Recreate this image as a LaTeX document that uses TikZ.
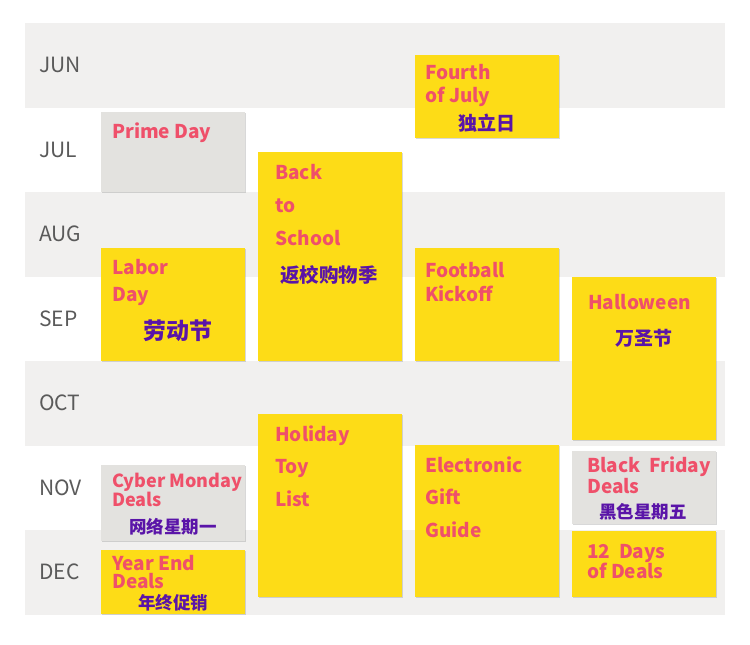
\documentclass[tikz,border=0pt]{standalone}
\usepackage{fontspec}
\setmainfont{Noto Sans CJK SC}
\usepackage{tikz}
\usetikzlibrary{shadows,positioning}
\definecolor{bandgray}{HTML}{F1F0EF}
\definecolor{cardgray}{HTML}{E3E2DF}
\definecolor{cardyellow}{HTML}{FDDC17}
\definecolor{titlepink}{HTML}{EF506A}
\definecolor{cnpurple}{HTML}{5A14A8}
\definecolor{monthgray}{HTML}{5A5A5A}

\begin{document}
\begin{tikzpicture}[x=1pt,y=-1pt,
	card/.style={anchor=north west,inner sep=0,outer sep=0,fill=cardyellow,
		drop shadow={shadow xshift=1.2pt,shadow yshift=-1.2pt,opacity=0.3}},
	graycard/.style={card,fill=cardgray},
	title/.style={anchor=base west,inner sep=0,align=left,text=titlepink,font=\bfseries\fontsize{19}{#1}\selectfont},
	title/.default=20,
	cn/.style={inner sep=0,text=cnpurple,font=\bfseries\fontsize{#1}{#1}\selectfont},
	cn/.default=17.5,
	month/.style={anchor=west,inner sep=0,text=monthgray,font=\fontsize{21}{21}\selectfont}]
	%
	\useasboundingbox[fill=white] (0,0) rectangle (750,645);
	
	% month bands
	\foreach \y in {23,192,361,530}
	\fill[bandgray] (25,\y) rectangle (725,\y+84.5);
	\foreach \m [count=\i from 0] in {JUN,JUL,AUG,SEP,OCT,NOV,DEC}
	\node[month] (m\m) at (39,65+84.5*\i) {\m};
	
	% cards
	\node[graycard,minimum width=144,minimum height=80] (prime) at (101,112) {};
	\node[card,minimum width=144,minimum height=83] (fourth) at (415,55) {};
	\node[card,minimum width=144,minimum height=209] (school) at (258,152) {};
	\node[card,minimum width=144,minimum height=113] (labor) at (101,248) {};
	\node[card,minimum width=144,minimum height=113] (football) at (415,248) {};
	\node[card,minimum width=144,minimum height=163] (halloween) at (572,277) {};
	\node[card,minimum width=144,minimum height=183] (holiday) at (258,414) {};
	\node[card,minimum width=144,minimum height=152] (gift) at (415,445) {};
	\node[graycard,minimum width=144,minimum height=76] (cyber) at (101,465) {};
	\node[graycard,minimum width=144,minimum height=73] (black) at (572,451) {};
	\node[card,minimum width=144,minimum height=64] (yearend) at (101,550) {};
	\node[card,minimum width=144,minimum height=66] (twelve) at (572,531) {};
	
	% texts (anchored at the baseline of the last line)
	\node[title] (primeT) at (112,138) {Prime Day};
	\node[title=23] (fourthT) at (425,102) {Fourth\\of July};
	\node[cn=19] (fourthC) at (487,123) {独立日};
	\node[title=33] (schoolT) at (275,245) {Back\\to\\School};
	\node[cn=19.5] (schoolC) at (329,275) {返校购物季};
	\node[title=27] (laborT) at (112,301) {Labor\\Day};
	\node[cn=23] (laborC) at (178,331) {劳动节};
	\node[title=24] (footballT) at (425,301) {Football\\Kickoff};
	\node[title] (halloweenT) at (588,309) {Halloween};
	\node[cn=19] (halloweenC) at (644,338) {万圣节};
	\node[title=32.5] (holidayT) at (275,506) {Holiday\\Toy\\List};
	\node[title=32.5] (giftT) at (425,537) {Electronic\\Gift\\Guide};
	\node[title,font=\bfseries\fontsize{18}{19.5}\selectfont] (cyberT) at (112,506.5) {Cyber Monday\\Deals};
	\node[cn] (cyberC) at (173,527) {网络星期一};
	\node[title=21] (blackT) at (587,493) {Black~~Friday\\Deals};
	\node[cn] (blackC) at (643,512) {黑色星期五};
	\node[title=18.5] (yearendT) at (112,588.5) {Year End\\Deals};
	\node[cn] (yearendC) at (173,603) {年终促销};
	\node[title=20] (twelveT) at (587,578) {12~~Days\\of Deals};
\end{tikzpicture}
\end{document}
